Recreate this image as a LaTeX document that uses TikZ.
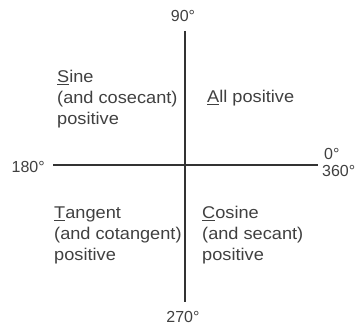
\documentclass[tikz,border=0pt]{standalone}
\usepackage{fontspec}
\setmainfont{Liberation Sans}
\newfontfamily\widefont[FakeStretch=1.07]{Liberation Sans}
\newcommand{\qblock}[1]{\vtop{\baselineskip=21pt\lineskiplimit=-20pt\lineskip=0pt #1}}
\newcommand{\ul}[1]{\underline{#1}}
\begin{document}
\begin{tikzpicture}[x=1pt,y=-1pt,
  axis/.style={draw=black!80,line width=1.4pt},
  deg/.style={inner sep=0pt,text=black!75,font=\fontsize{16}{19}\selectfont},
  quad/.style={inner sep=0pt,anchor=base west,text=black!75,font=\widefont\fontsize{17}{21}\selectfont}]
\useasboundingbox (0,0) rectangle (361,328);
\coordinate (top) at (185,31);
\coordinate (bot) at (185,302);
\coordinate (lft) at (53,165);
\coordinate (rgt) at (318,165);
\draw[axis] (top) -- (bot);
\draw[axis] (lft) -- (rgt);
\node[deg,anchor=base] (n90) at (183,22) {90°};
\node[deg,anchor=base] (n270) at (183,322) {270°};
\node[deg,anchor=base east] (n180) at (45,173) {180°};
\node[deg,anchor=base west] (n0) at (324,160) {0°};
\node[deg,anchor=base west] (n360) at (322,177) {360°};
\node[quad] (sine) at (57,83) {\qblock{\hbox{\ul{S}ine}\hbox{(and cosecant)}\hbox{positive}}};
\node[quad] (all) at (207,103) {\ul{A}ll positive};
\node[quad] (tan) at (54,219) {\qblock{\hbox{\ul{T}angent}\hbox{(and cotangent)}\hbox{positive}}};
\node[quad] (cos) at (202,219) {\qblock{\hbox{\ul{C}osine}\hbox{(and secant)}\hbox{positive}}};
\end{tikzpicture}
\end{document}
